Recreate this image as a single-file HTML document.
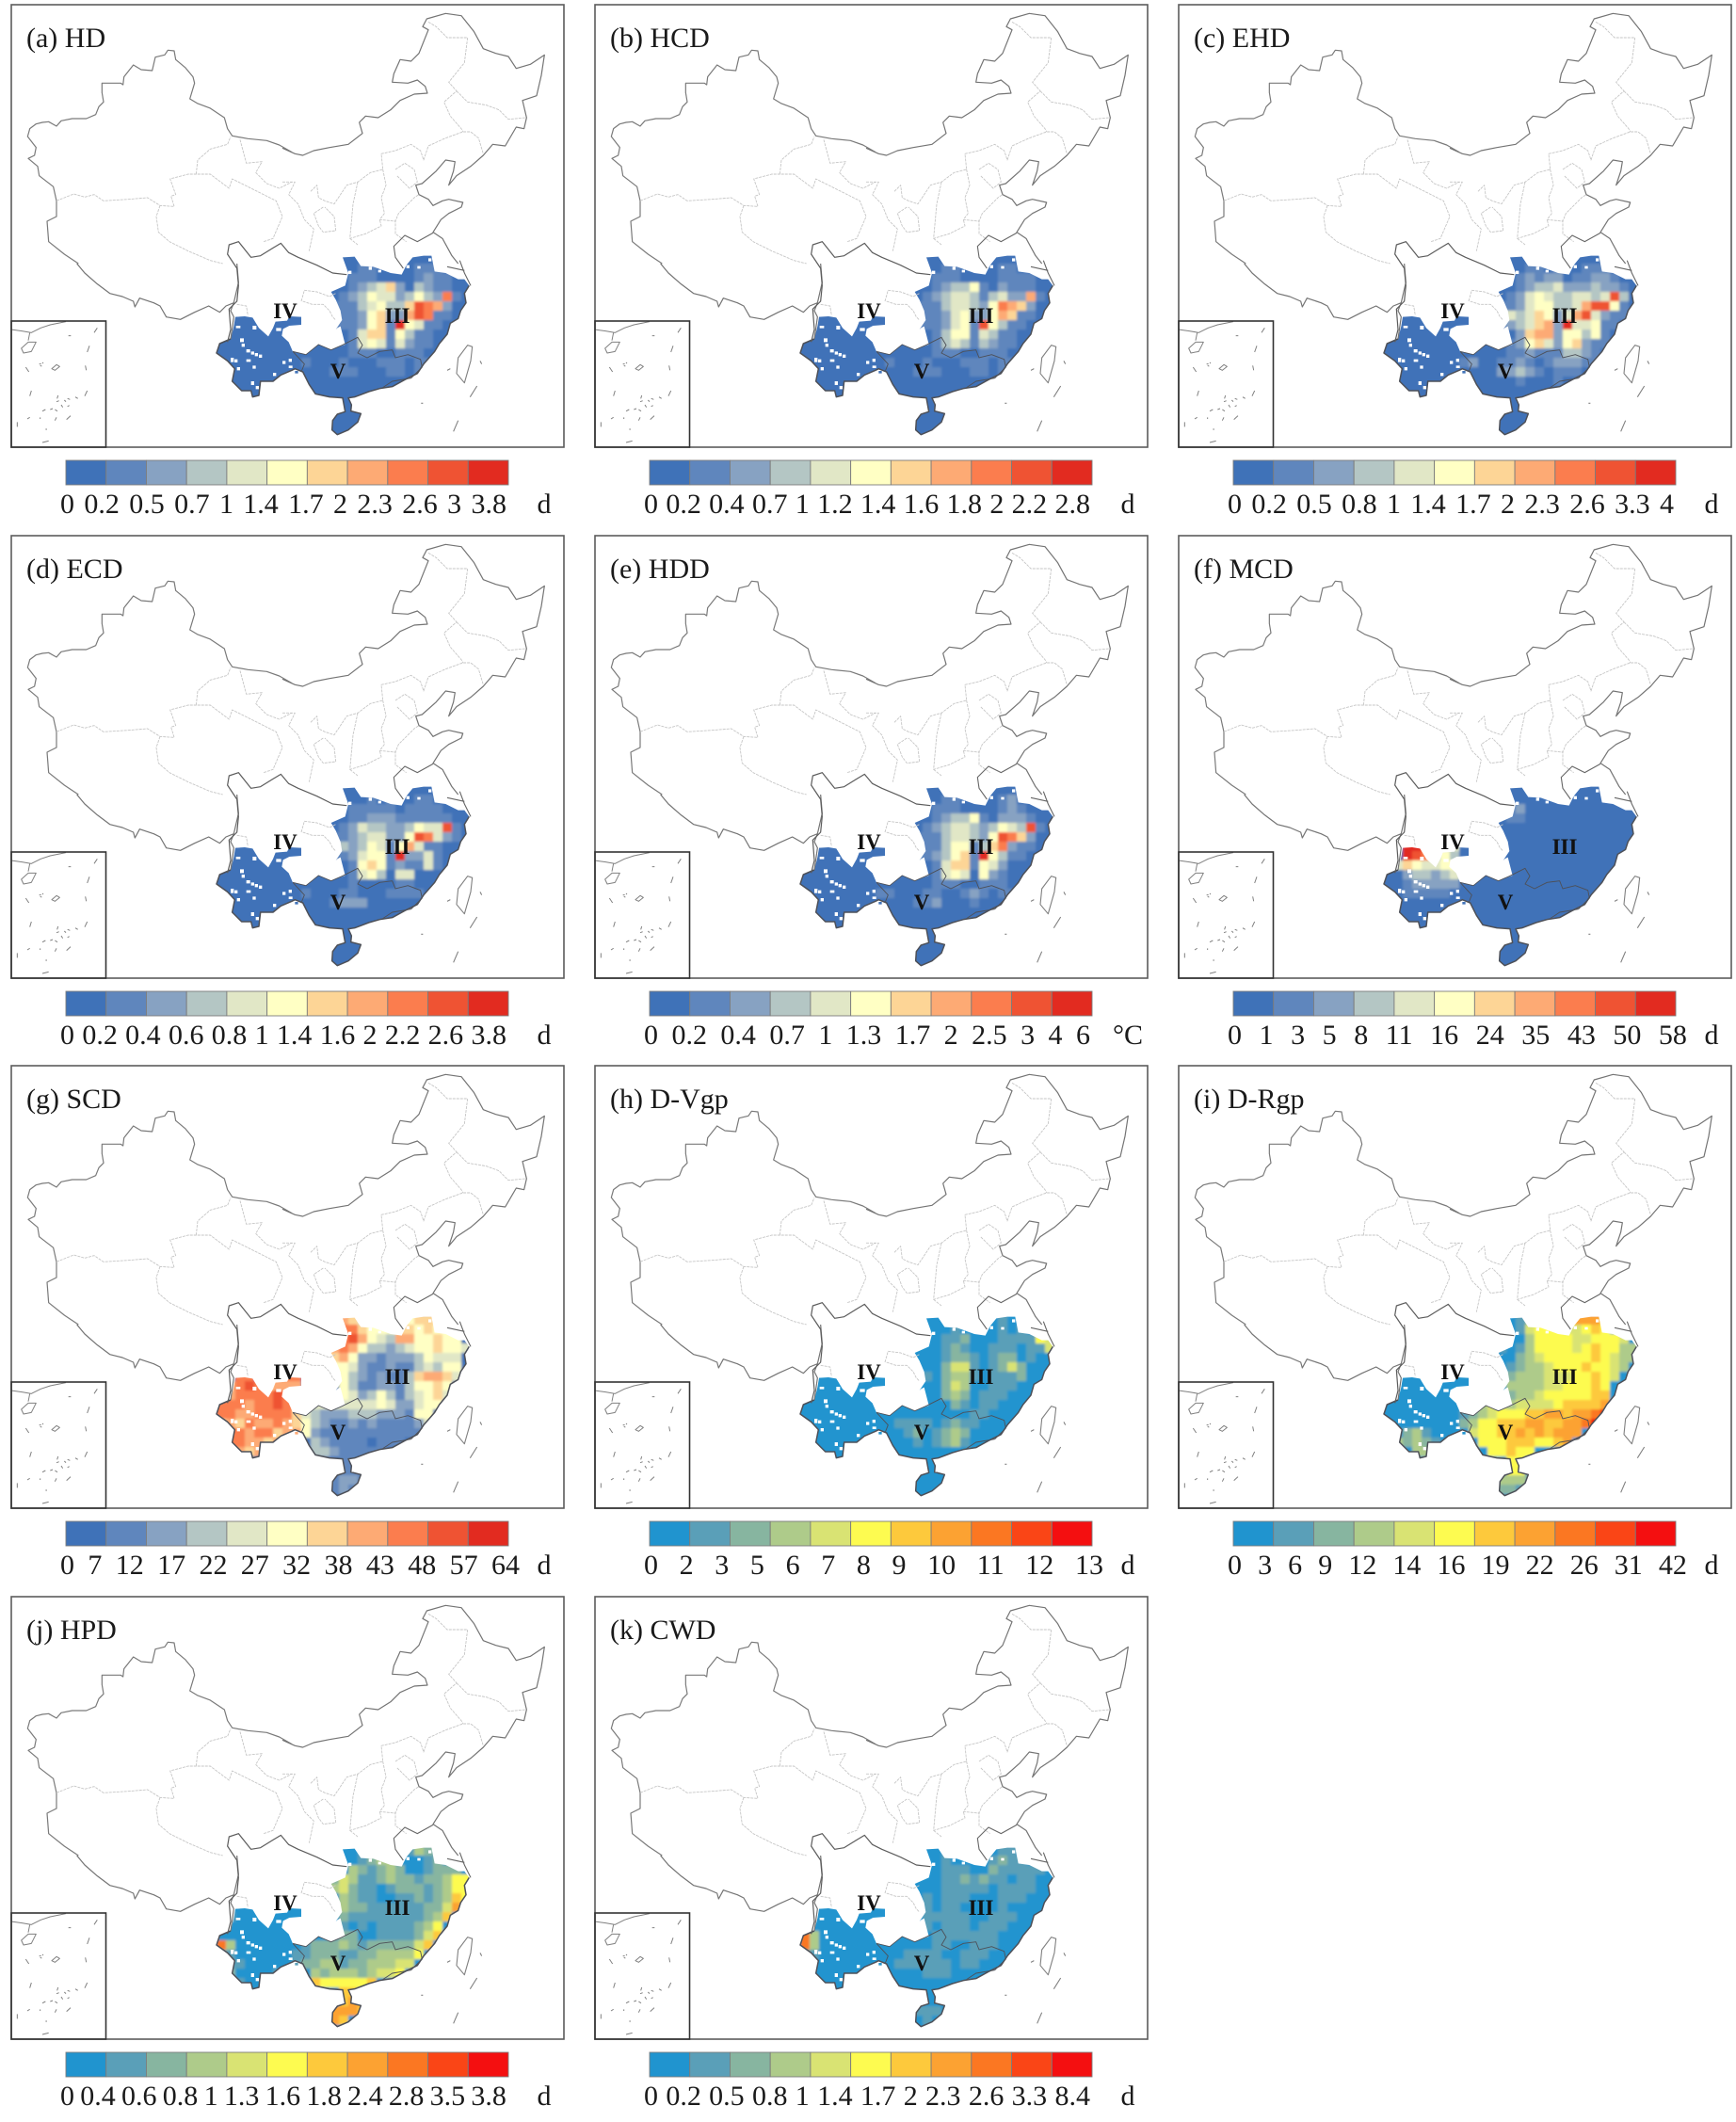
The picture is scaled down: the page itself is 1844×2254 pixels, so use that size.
<!DOCTYPE html>
<html lang="en">
<head>
<meta charset="utf-8">
<title>China heat and drought maps</title>
<style>
html,body{margin:0;padding:0;background:#fff;}
body{position:relative;width:1844px;height:2244px;overflow:hidden;font-family:"Liberation Serif",serif;color:#111;}
.panel{position:absolute;width:620px;height:563px;}
.panel svg{position:absolute;left:0;top:0;}
.ticks{position:absolute;left:64px;top:519px;display:flex;justify-content:space-between;font-size:30px;white-space:nowrap;color:#1a1a1a;}
.unit{position:absolute;top:519px;left:558px;width:40px;text-align:center;font-size:30px;color:#1a1a1a;}
</style>
</head>
<body>
<svg width="0" height="0" style="position:absolute">
<defs>
<filter id="soften" x="-5%" y="-5%" width="110%" height="110%"><feGaussianBlur stdDeviation="4"/></filter>
<clipPath id="fill-clip">
<path transform="translate(210,240) scale(.33333)" clip-rule="evenodd" d="M120 290L150 288L175 292L195 325L225 352L240 325L248 305L285 302L292 288L330 290L330 315L292 318L272 328L268 350L290 370L303 400L345 410L385 378L425 395L470 378L455 320L445 325L440 330L460 300L455 270L440 235L425 210L470 190L480 150L462 100L500 98L520 128L560 130L615 150L650 155L665 125L685 100L720 95L745 95L755 145L790 150L830 170L850 170L865 190L850 215L855 245L838 270L830 295L805 310L795 345L770 375L755 400L720 440L700 470L660 490L620 512L580 518L545 528L500 545L480 548L490 570L488 590L520 598L510 625L480 650L445 665L428 650L430 620L445 600L470 592L462 548L420 545L375 535L355 505L335 465L310 455L300 460L265 475L240 495L200 495L195 540L175 545L170 525L140 525L110 495L118 455L95 430L60 405L70 375L105 360L115 320Z
M175 318h12v12h-12zM250 325h16v10h-16zM135 358h12v12h-12zM140 375h10v10h-10zM155 393h12v10h-12zM170 400h10v10h-10zM182 405h10v10h-10zM195 410h10v10h-10zM105 420h10v14h-10zM117 425h10v10h-10zM155 425h14v8h-14zM125 450h10v10h-10zM175 445h10v10h-10zM290 423h10v10h-10zM270 430h10v10h-10zM290 445h12v8h-12zM310 462h10v8h-10zM240 468h10v10h-10zM170 495h10v12h-10zM185 510h10v10h-10zM122 318h14v8h-14zM480 143h10v10h-10zM545 130h10v10h-10zM575 140h10v8h-10zM665 125h10v10h-10zM700 128h10v8h-10zM735 103h10v10h-10z"/>
</clipPath>
<g id="base-map" fill="none" stroke-linejoin="round">
<g transform="translate(10,0) scale(.33333)">
<path vector-effect="non-scaling-stroke" stroke="#7a7a7a" stroke-width="1.2" d="M220 840L175 810L125 770L120 705L150 690L150 640L140 595L95 560L90 530L60 505L80 495L85 470L58 435L65 410L85 395L105 390L125 388L150 402L165 385L200 378L245 378L275 365L285 340L300 325L295 295L295 265L355 265L362 270L365 245L395 207L420 222L455 225L465 182L495 175L505 160L525 162L530 190L560 215L585 245L590 265L575 315L600 330L640 345L685 375L695 410L710 433L760 442L820 448L860 462L900 485"/>
<path vector-effect="non-scaling-stroke" stroke="#c6c6c6" stroke-width="0.9" stroke-dasharray="3 1" d="M150 640L205 618L240 628L270 620L300 640L380 635L440 630L480 655L525 658L515 625L530 620L512 570L570 555L640 555L700 600L710 570L730 580L790 610L850 640L870 690L840 760L810 770M480 655L468 690L475 740L510 770L570 800L640 830L680 840M595 555L600 510L640 475L695 460L705 435M735 445L755 520L805 515L785 550L820 585L860 600L900 580"/>
</g>
<g transform="translate(300,0) scale(.33333)">
<path vector-effect="non-scaling-stroke" stroke="#747474" stroke-width="1.2" d="M0 472L40 490L65 495L100 480L150 470L210 460L255 425L245 390L265 370L305 375L345 350L375 320L420 300L462 297L455 275L430 255L400 265L350 262L355 235L375 190L410 195L435 170L465 95L447 85L460 60L520 43L570 50L610 100L640 155L680 170L720 180L745 218L790 205L835 175L825 240L810 305L765 320L778 375L770 410L745 405L710 465L670 460L640 495L600 530L555 560L530 590L545 545L550 515L520 510L490 545L445 585L425 590L435 620L465 635L480 655L510 640L530 635L575 645L570 660L530 680L505 700L480 740L510 760L540 815L560 840"/>
<path vector-effect="non-scaling-stroke" stroke="#c6c6c6" stroke-width="0.9" stroke-dasharray="3 1" d="M0 580L40 580L20 620L50 650L70 700L100 730L85 800M90 610L110 590L115 630L135 640L165 650L205 590L240 580L280 550L320 540L315 490L360 480L410 460L440 480L450 510L465 465L520 440L575 420L600 420L625 440L640 490M465 70L490 85L525 120L590 120L580 200L530 262L555 290L515 325L535 370L570 410L575 420M555 290L590 325L650 335L690 350L720 380L775 375M320 540L330 590L315 630L325 680L310 700L360 705L370 680L420 630L435 620M240 580L225 650L215 760L265 745L315 720L310 700M215 760L240 780M360 700L360 745L395 770M130 660L100 680L115 720L130 740L170 735L165 690L135 660M360 540L390 520L420 540L430 580L405 600L365 560"/>
</g>
<g transform="translate(0,280) scale(.33333)">
<path vector-effect="non-scaling-stroke" stroke="#747474" stroke-width="1.2" d="M245 0L270 30L310 65L350 95L390 105L425 120L430 138L445 110L490 125L510 135L530 170L575 178L620 155L665 135L700 155L720 135L745 125L760 60L755 0M745 125L735 150L745 170L735 240"/>
<path vector-effect="non-scaling-stroke" stroke="#808080" stroke-width="1" d="M35 210L70 215L100 220L130 205L160 195L210 185M68 270L90 250L115 250L100 280L75 285ZM95 220L90 245M310 205L300 220M285 262L278 282M218 230h8M82 330L92 345M165 335L180 322L190 328L175 340ZM272 325L275 340M100 405L95 422M278 405L270 422M225 485L212 497M55 505V520M145 528h5M135 570L155 565M185 420l-3 10M180 440l8-3M205 435l5 5M215 430l8 3M240 425l8 5M135 470l10-5M160 465l8-3M175 465l8 5M195 450l5 8M215 455l6-3M95 490l-8 5M128 490v5M180 490l-5 10M125 320h6M135 315l3 3M128 325l5 2"/>
</g>
<g transform="translate(210,240) scale(.33333)">
<path vector-effect="non-scaling-stroke" stroke="#5c5c5c" stroke-width="1.2" d="M125 135L95 90L100 60L130 50L170 100L200 95L240 70L265 55L290 85L320 100L380 125L430 150L475 155M125 135L130 190L125 240L100 265L105 330L95 370"/>
<path vector-effect="non-scaling-stroke" stroke="#666" stroke-width="1.1" d="M750 22L700 50L660 30L625 65L630 100L655 135M835 110L850 150L870 190M795 130L850 142"/>
<path vector-effect="non-scaling-stroke" stroke="#c6c6c6" stroke-width="0.9" stroke-dasharray="3 1" d="M330 240L340 205L380 210L420 225L440 215M335 240L365 250L400 250L420 270L430 290L440 300M125 250L155 255L160 285"/>
<path vector-effect="non-scaling-stroke" stroke="#808080" stroke-width="1.1" d="M830 420L860 380L875 385L870 430L850 500L825 470ZM900 430L905 440M890 510L868 545M830 620L815 655M712 565h6M795 460L805 455"/>
</g>
</g>
<g id="region-lines" fill="none" stroke-linejoin="round">
<path transform="translate(210,240) scale(.33333)" vector-effect="non-scaling-stroke" stroke="#4d5058" stroke-width="1.5" d="M865 190L850 215L855 245L838 270L830 295L805 310L795 345L770 375L755 400L720 440L700 470L660 490L620 512L580 518L545 528L500 545L480 548L490 570L488 590L520 598L510 625L480 650L445 665L428 650L430 620L445 600L470 592L462 548L420 545L375 535L355 505L335 465L310 455L300 460L265 475L240 495L200 495L195 540L175 545L170 525L140 525L110 495L118 455L95 430L60 405L70 375L105 360"/>
<path transform="translate(210,240) scale(.33333)" vector-effect="non-scaling-stroke" stroke="#4d5058" stroke-width="0.9" d="M460 380L510 355L525 380L510 405L540 420L580 400L620 395L630 420L670 410L710 425L715 450L680 485L620 495L590 515M303 400L345 410L385 378L425 395L460 380M303 400L340 440L330 465"/>
</g>
</defs>
</svg>
<script>
const panelTitles = ['(a) HD','(b) HCD','(c) EHD','(d) ECD','(e) HDD','(f) MCD','(g) SCD','(h) D-Vgp','(i) D-Rgp','(j) HPD','(k) CWD'];
const unitLabels = ['d','d','d','d','°C','d','d','d','d','d','d'];
const ticksA = ['0','0.2','0.5','0.7','1','1.4','1.7','2','2.3','2.6','3','3.8'];
const ticksB = ['0','0.2','0.4','0.7','1','1.2','1.4','1.6','1.8','2','2.2','2.8'];
const ticksC = ['0','0.2','0.5','0.8','1','1.4','1.7','2','2.3','2.6','3.3','4'];
const ticksD = ['0','0.2','0.4','0.6','0.8','1','1.4','1.6','2','2.2','2.6','3.8'];
const ticksE = ['0','0.2','0.4','0.7','1','1.3','1.7','2','2.5','3','4','6'];
const ticksF = ['0','1','3','5','8','11','16','24','35','43','50','58'];
const ticksG = ['0','7','12','17','22','27','32','38','43','48','57','64'];
const ticksH = ['0','2','3','5','6','7','8','9','10','11','12','13'];
const ticksI = ['0','3','6','9','12','14','16','19','22','26','31','42'];
const ticksJ = ['0','0.4','0.6','0.8','1','1.3','1.6','1.8','2.4','2.8','3.5','3.8'];
const ticksK = ['0','0.2','0.5','0.8','1','1.4','1.7','2','2.3','2.6','3.3','8.4'];
const coolWarmColors = ['#3f72b8','#5f86bd','#87a2c2','#b4c6c4','#e1e7c6','#ffffc4','#fdd596','#fdaa74','#fb7d4e','#ef5333','#e22b20'];
const blueRedColors = ['#2094cf','#5a9fb8','#87b5a0','#aecb8a','#d9e373','#fdfb50','#fdc93c','#fca232','#fb7722','#fa4516','#f40f10'];
const Z = '000000000000';
const classesA = [Z+'000000000000000',Z+'000110000111000',Z+'001110000121100',Z+'001234620321100',Z+'012354423532810',Z+'111345336987200',Z+'111256227981100',Z+'1112561a5411000',Z+'101466153110000',Z+'001454142110000',Z+'001110011100000','000000000100010001110110000',Z+'111000110100000'];
const classesB = [Z+'000000000000000',Z+'000110000110000',Z+'001110000111100',Z+'001233510211100',Z+'012344313422710',Z+'111344325876200',Z+'111245225761100',Z+'111245195311000',Z+'101355143110000',Z+'001343132110000',Z+'001110011100000','000000000100010001110110000',Z+'111000110100000'];
const classesC = [Z+'000000000000000',Z+'000110100111000',Z+'001212201122100',Z+'001233422232210',Z+'012454334434930',Z+'112455334799510',Z+'143465247942110',Z+'1234672a4451100',Z+'102677255351000',Z+'012564256211000',Z+'011211133210000','000000001200112101222110000',Z+'223210111000000',Z+'001000100000000'];
const classesD = [Z+'000000000000000',Z+'000010100110000',Z+'001111101111000',Z+'001122211111100',Z+'012433223544910',Z+'112344225984210',Z+'132354157411000',Z+'1124551a2241000',Z+'001565121141000',Z+'001453044000000',Z+'001000011000000','000000000100011000111100000',Z+'122200000000000'];
const classesE = [Z+'000000000000000',Z+'000110000120000',Z+'001110000121000',Z+'001233510222100',Z+'012344323543910',Z+'111344325986200',Z+'111355136821100',Z+'1123561a5311000',Z+'101466154200000',Z+'001454052100000',Z+'001110011100000','000000001100011001210110000',Z+'112000100000000'];
const classesF = [Z+'000000000000000',Z+'000000000000000',Z+'012000000000000',Z+'011000000000000',Z+'000000000000000',Z+'000000000000000','00aa90340000000000000000000','00a983530000000000000000000','046544550000000000000000000','002332342000000000000000000','001222220000000000000000000','001111100000000000000000000'];
const classesG = [Z+'076444455666500',Z+'088655566565500',Z+'089754377556550',Z+'787533234556554',Z+'675221222354440',Z+'554211211343550','008800888000053212113677640','078986777000053112213556500','078888987000054235313456400','888788988044444445422455000','887788886432223332221550000','676877876532112121111240000','088788677521111111111100000','088776700032111101110000000','007670000033211111000000000',Z+'011000000000000',Z+'011100000000000','000000000001122110000000000',Z+'121100000000000'];
const classesH = [Z+'000000000100000',Z+'000010000101000',Z+'000112000111154',Z+'000121001110114',Z+'000122101220100',Z+'000244101242000',Z+'010233101112000',Z+'000243001110000',Z+'000232011100000',Z+'000021011000000',Z+'000000110000000','000000000011110121100000000','000000000001201232000000000',Z+'101231000000000'];
const classesI = [Z+'001200057775000',Z+'001455544565000',Z+'000355554455540',Z+'101355554565533',Z+'002345555565433',Z+'012334555655430',Z+'023334445565400',Z+'033334455565000',Z+'023345555566000','000000000134434444566667000','00000000123455566776778a000','0000000023556667766778a0000','002310000455667676777000000','032321000055566655670000000','000330000005565500000000000',Z+'055000000000000',Z+'055000000000000','000000000003333200000000000',Z+'221000000000000'];
const classesJ = [Z+'000100011321000',Z+'000123300012000',Z+'003212320012220',Z+'243112322122355',Z+'342110122212355',Z+'032110011212365',Z+'032211111122470','010000000000021111111123600','100000000000010101111235000','000000000000122001111246000','830000000122232122222460000','210000001122211223333500000','011000001223312233344000000','020000100032333234450000000','001000000065555560000000000',Z+'066000000000000',Z+'067700000000000','000000000007777600000000000',Z+'760000000000000'];
const classesK = [Z+'000100000110000',Z+'000100001211000',Z+'000111002111110',Z+'000112121101100',Z+'000111110111100',Z+'010111000111000',Z+'010110000100000',Z+'011111001110000',Z+'010111011100000','830000000000001111111000000','830000000000001100111000000','210000000001111001110000000','000000000011111101100000000',Z+'011100000000000',Z+'000000000000000',Z+'000000000000000',Z+'000000000000000','000000000000111000000000000',Z+'010000000000000'];

const panelTicks = [ticksA,ticksB,ticksC,ticksD,ticksE,ticksF,ticksG,ticksH,ticksI,ticksJ,ticksK];
const panelClasses = [classesA,classesB,classesC,classesD,classesE,classesF,classesG,classesH,classesI,classesJ,classesK];
const panelSchemes = [coolWarmColors,coolWarmColors,coolWarmColors,coolWarmColors,coolWarmColors,coolWarmColors,coolWarmColors,blueRedColors,blueRedColors,blueRedColors,blueRedColors];

const NS = 'http://www.w3.org/2000/svg';
const GRID_COLS = 27, GRID_ROWS = 19;
function xOfCol(c){ return 60 + 30 * c; }
function yOfRow(r){ return 90 + 30 * r; }
function xOfBin(i){ return 70 + i * (470 / 11); }
function panelLeft(i){ return (i % 3) * 620; }
function panelTop(i){ return Math.floor(i / 3) * 563.5; }
function tickRowEnd(i){ return [5,6,7,8].includes(i) ? 552 : 538; }
function node(tag, attrs){
  const el = document.createElementNS(NS, tag);
  for (const k in attrs) el.setAttribute(k, attrs[k]);
  return el;
}

panelTitles.forEach(function(title, p){
  const wrap = document.createElement('div');
  wrap.className = 'panel';
  wrap.style.left = panelLeft(p) + 'px';
  wrap.style.top = panelTop(p) + 'px';
  
  
  document.body.appendChild(wrap);

  const svg = node('svg', {width: 620, height: 563, viewBox: '0 0 620 563'});
  
  
  wrap.appendChild(svg);

  const colors = panelSchemes[p];
  const rows = panelClasses[p];

  const clipped = node('g', {'clip-path': 'url(#fill-clip)'});
  
  
  svg.appendChild(clipped);
  const placed = node('g', {transform: 'translate(210,240) scale(.33333)'});
  clipped.appendChild(placed);
  const soft = node('g', {filter: 'url(#soften)'});
  
  
  placed.appendChild(soft);

  const under = node('rect', {x: 0, y: 30, width: 930, height: 700, fill: colors[0]});
  
  
  soft.appendChild(under);

  for (let r = 0; r < GRID_ROWS; r++){
    const line = (rows[r] || '').padEnd(GRID_COLS, '0');
    for (let c = 0; c < GRID_COLS; c++){
      const v = parseInt(line[c], 11);
      if (!v) continue;
      const cell = node('rect', {x: xOfCol(c), y: yOfRow(r), width: 30, height: 30, fill: colors[v]});
      
      
      soft.appendChild(cell);
    }
  }

  const regionLines = node('use', {href: '#region-lines'});
  
  
  svg.appendChild(regionLines);

  const base = node('use', {href: '#base-map'});
  
  
  svg.appendChild(base);

  const frame = node('rect', {x: 12, y: 5, width: 587, height: 470, fill: 'none', stroke: '#5c5c5c', 'stroke-width': 1.6});
  
  
  svg.appendChild(frame);

  const inset = node('rect', {x: 12, y: 341, width: 100.5, height: 134, fill: 'none', stroke: '#333', 'stroke-width': 1.6});
  
  
  svg.appendChild(inset);

  const head = node('text', {x: 28, y: 50, 'font-size': 30, 'font-family': '"Liberation Serif", serif', fill: '#1a1a1a'});
  head.textContent = title;
  
  
  svg.appendChild(head);

  [['III', 422, 343], ['IV', 303, 338], ['V', 359, 402]].forEach(function(item){
    const t = node('text', {x: item[1], y: item[2], 'text-anchor': 'middle', 'font-size': 23, 'font-weight': 'bold', 'font-family': '"Liberation Serif", serif', fill: '#111'});
    t.textContent = item[0];
    
    
    svg.appendChild(t);
  });

  colors.forEach(function(col, i){
    const bin = node('rect', {x: xOfBin(i), y: 489, width: xOfBin(i + 1) - xOfBin(i), height: 26, fill: col, stroke: '#7c7c7c', 'stroke-width': 0.9});
    
    
    svg.appendChild(bin);
  });

  const ticks = document.createElement('div');
  ticks.className = 'ticks';
  ticks.style.width = (tickRowEnd(p) - 64) + 'px';
  
  
  wrap.appendChild(ticks);
  panelTicks[p].forEach(function(label){
    const s = document.createElement('span');
    s.textContent = label;
    
    
    ticks.appendChild(s);
  });

  const unit = document.createElement('div');
  unit.className = 'unit';
  unit.textContent = unitLabels[p];
  
  
  wrap.appendChild(unit);
});
</script>
</body>
</html>
